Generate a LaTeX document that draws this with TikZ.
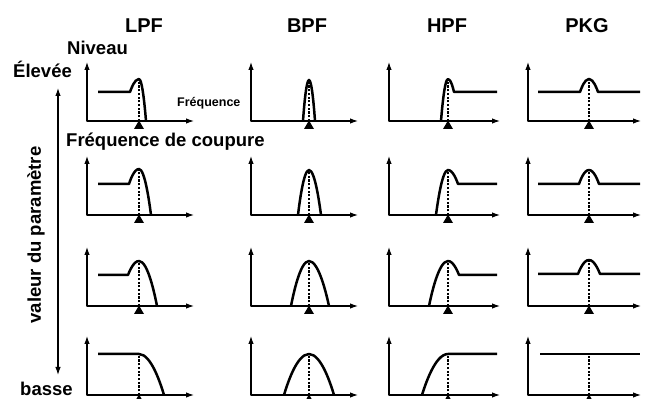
\documentclass[tikz,border=0pt]{standalone}
\usepackage{fontspec}
\setmainfont{Liberation Sans}
\usetikzlibrary{arrows.meta}

\begin{document}
\begin{tikzpicture}[x=1pt, y=1pt, >={Latex[length=8pt,width=5.5pt]}, line join=round,
		axe/.style={<->, line width=1.1pt},
		courbe/.style={line width=2.5pt},
		repere/.style={line width=1.2pt, dash pattern=on 2.2pt off 1.5pt},
		titre/.style={font=\fontsize{20}{24}\selectfont\bfseries},
		etiq/.style={font=\fontsize{18.5}{22}\selectfont\bfseries},
		petit/.style={font=\fontsize{12.5}{15}\selectfont\bfseries}]
	\useasboundingbox (0,0) rectangle (649,399);
	
	% 1. axes et triangles (origine x / repere / longueur)
	\foreach \cx/\m/\L in {87/52/107, 251/58/107, 389/59/111, 528/61/113}
	\foreach \cy in {278,184,93,4}
	{
		\begin{scope}[shift={(\cx,\cy)}]
			\draw[axe] (0,59) |- (\L,0);
			\fill (\m-5,-8) -- (\m+5,-8) -- (\m,0.5) -- cycle;
		\end{scope}
	}
	
	% 2. LPF
	\foreach \cy/\hf/\a/\hp/\e in {278/29/43/42/59, 184/31/42/46/64, 93/31/41/45/70}
	{
		\begin{scope}[shift={(87,\cy)}]
			\draw[repere] (52,0) -- (52,\hp);
			\draw[courbe] (11,\hf) -- (\a,\hf) parabola bend (52,\hp) (\e,0);
		\end{scope}
	}
	\begin{scope}[shift={(87,4)}]
		\draw[repere] (52,0) -- (52,41);
		\draw[courbe] (11,41) -- (52,41) parabola (77,0);
	\end{scope}
	
	% 3. BPF
	\foreach \cy/\b/\hp/\c in {278/52/41/64, 184/47/45/70, 93/40/45/78, 4/33/41/83}
	{
		\begin{scope}[shift={(251,\cy)}]
			\draw[repere] (58,0) -- (58,\hp);
			\draw[courbe] (\b,0) parabola bend (58,\hp) (\c,0);
		\end{scope}
	}
	
	% 4. HPF
	\foreach \cy/\s/\hp/\a/\hf in {278/52/42/65/29, 184/47/45/69/31, 93/40/45/70/31}
	{
		\begin{scope}[shift={(389,\cy)}]
			\draw[repere] (59,0) -- (59,\hp);
			\draw[courbe] (\s,0) parabola bend (59,\hp) (\a,\hf) -- (108,\hf);
		\end{scope}
	}
	\begin{scope}[shift={(389,4)}]
		\draw[repere] (59,0) -- (59,41);
		\draw[courbe] (108,41) -- (59,41) parabola (33,0);
	\end{scope}
	
	% 5. PKG
	\foreach \cy/\hf/\hp/\w in {278/29/42/9, 184/31/45/10, 93/32/46/11}
	{
		\begin{scope}[shift={(528,\cy)}]
			\draw[repere] (61,0) -- (61,\hp);
			\draw[courbe] (10,\hf) -- (61-\w,\hf) parabola bend (61,\hp) (61+\w,\hf) -- (112,\hf);
		\end{scope}
	}
	\begin{scope}[shift={(528,4)}]
		\draw[repere] (61,0) -- (61,41);
		\draw[courbe] (12,41) -- (112,41);
	\end{scope}
	
	% 6. titres et etiquettes
	\node[titre, anchor=base] (lpf) at (144,366) {LPF};
	\node[titre, anchor=base] (bpf) at (307,366) {BPF};
	\node[titre, anchor=base] (hpf) at (447,366) {HPF};
	\node[titre, anchor=base] (pkg) at (587,366) {PKG};
	\node[etiq, anchor=base west, inner sep=0] (niveau) at (67,344) {Niveau};
	\node[etiq, anchor=base west, inner sep=0] (elevee) at (13,321) {Élevée};
	\node[petit, anchor=base west, inner sep=0] (freq) at (177,292) {Fréquence};
	\node[etiq, anchor=base west, inner sep=0] (coupure) at (66,252) {Fréquence de coupure};
	\node[etiq, rotate=90] (valeur) at (36,164) {valeur du paramètre};
	\node[etiq, anchor=base west, inner sep=0] (basse) at (20,3) {basse};
	
	% 7. fleche du parametre
	\coordinate (haut) at (58,311);
	\coordinate (bas) at (58,24);
	\draw[axe] (haut) -- (bas);
\end{tikzpicture}
\end{document}
